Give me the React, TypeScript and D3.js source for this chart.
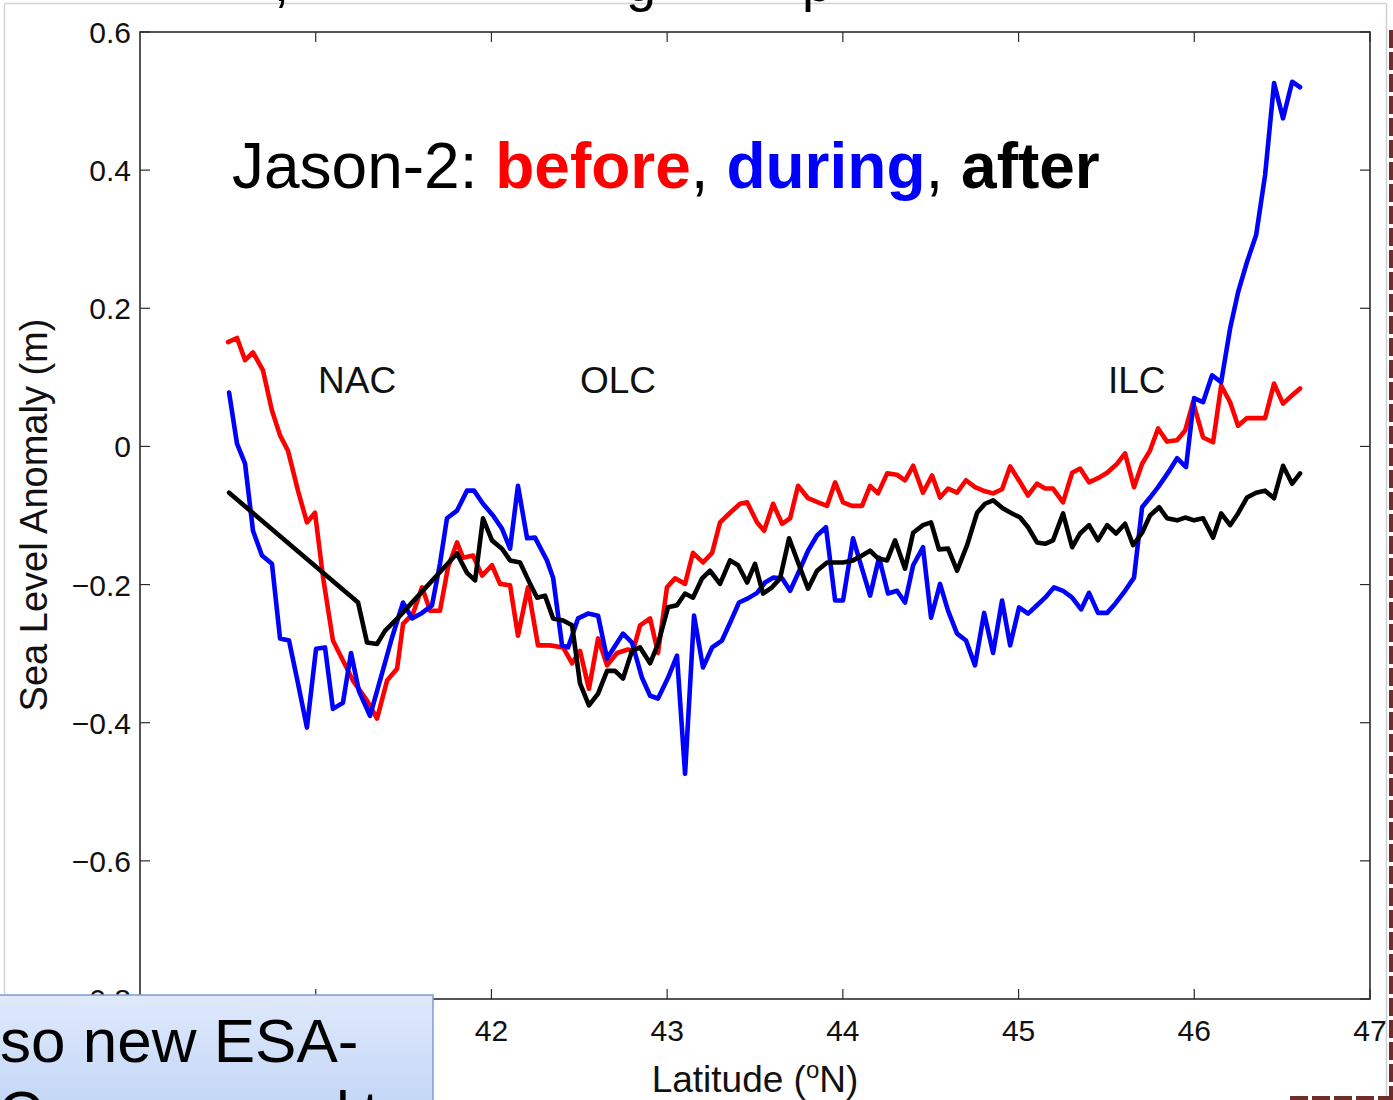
import React from "react";
import * as d3 from "d3";

// Along-track sea level anomaly (m) versus latitude (deg N)
const before: [number, number][] = [
  [40.501, 0.151], [40.552, 0.157], [40.598, 0.125], [40.643, 0.136], [40.7, 0.11],
  [40.751, 0.052], [40.797, 0.016], [40.842, -0.006], [40.899, -0.064], [40.95, -0.11],
  [40.996, -0.096], [41.042, -0.19], [41.098, -0.281], [41.155, -0.31], [41.212, -0.339],
  [41.292, -0.368], [41.349, -0.394], [41.406, -0.339], [41.463, -0.322], [41.497, -0.257],
  [41.554, -0.242], [41.605, -0.204], [41.651, -0.238], [41.707, -0.238], [41.753, -0.175],
  [41.804, -0.139], [41.838, -0.161], [41.895, -0.158], [41.947, -0.187], [42.003, -0.172],
  [42.049, -0.199], [42.106, -0.201], [42.151, -0.274], [42.208, -0.204], [42.265, -0.288],
  [42.334, -0.288], [42.408, -0.291], [42.459, -0.314], [42.504, -0.296], [42.555, -0.351],
  [42.607, -0.278], [42.658, -0.317], [42.715, -0.299], [42.777, -0.294], [42.806, -0.296],
  [42.846, -0.259], [42.903, -0.249], [42.948, -0.299], [42.999, -0.204], [43.045, -0.191],
  [43.102, -0.199], [43.147, -0.154], [43.204, -0.168], [43.256, -0.154], [43.301, -0.11],
  [43.358, -0.096], [43.415, -0.083], [43.455, -0.081], [43.512, -0.11], [43.552, -0.122],
  [43.603, -0.083], [43.654, -0.112], [43.7, -0.104], [43.745, -0.057], [43.802, -0.075],
  [43.859, -0.081], [43.91, -0.086], [43.956, -0.052], [44.001, -0.081], [44.052, -0.086],
  [44.109, -0.086], [44.155, -0.057], [44.2, -0.068], [44.252, -0.039], [44.308, -0.041],
  [44.354, -0.049], [44.4, -0.028], [44.456, -0.067], [44.508, -0.042], [44.553, -0.074],
  [44.599, -0.061], [44.65, -0.067], [44.701, -0.049], [44.752, -0.059], [44.809, -0.065],
  [44.855, -0.068], [44.906, -0.062], [44.952, -0.029], [45.009, -0.052], [45.054, -0.071],
  [45.105, -0.054], [45.151, -0.061], [45.196, -0.061], [45.253, -0.081], [45.305, -0.038],
  [45.35, -0.032], [45.401, -0.052], [45.452, -0.046], [45.504, -0.038], [45.561, -0.025],
  [45.606, -0.01], [45.657, -0.059], [45.703, -0.025], [45.748, -0.006], [45.794, 0.026],
  [45.845, 0.007], [45.902, 0.009], [45.948, 0.023], [45.993, 0.064], [46.05, 0.013],
  [46.107, 0.006], [46.153, 0.088], [46.204, 0.064], [46.249, 0.03], [46.3, 0.041],
  [46.403, 0.041], [46.454, 0.091], [46.505, 0.062], [46.557, 0.074], [46.602, 0.084],
];

const during: [number, number][] = [
  [40.507, 0.078], [40.552, 0.004], [40.598, -0.025], [40.643, -0.122], [40.694, -0.158],
  [40.751, -0.17], [40.797, -0.278], [40.848, -0.281], [40.899, -0.343], [40.95, -0.407],
  [41.002, -0.293], [41.053, -0.291], [41.098, -0.38], [41.155, -0.371], [41.201, -0.299],
  [41.246, -0.354], [41.309, -0.39], [41.377, -0.329], [41.434, -0.277], [41.497, -0.226],
  [41.548, -0.249], [41.605, -0.241], [41.662, -0.23], [41.707, -0.17], [41.747, -0.104],
  [41.804, -0.093], [41.861, -0.064], [41.901, -0.064], [41.952, -0.083], [42.009, -0.1],
  [42.06, -0.119], [42.106, -0.148], [42.151, -0.057], [42.203, -0.133], [42.248, -0.132],
  [42.316, -0.165], [42.351, -0.19], [42.402, -0.288], [42.436, -0.291], [42.493, -0.249],
  [42.55, -0.242], [42.607, -0.245], [42.658, -0.307], [42.749, -0.271], [42.8, -0.284],
  [42.857, -0.335], [42.903, -0.361], [42.948, -0.365], [43.005, -0.335], [43.056, -0.303],
  [43.102, -0.474], [43.153, -0.245], [43.204, -0.32], [43.256, -0.291], [43.312, -0.281],
  [43.364, -0.252], [43.409, -0.226], [43.46, -0.22], [43.512, -0.212], [43.557, -0.197],
  [43.603, -0.19], [43.654, -0.191], [43.7, -0.209], [43.745, -0.184], [43.802, -0.151],
  [43.853, -0.129], [43.904, -0.117], [43.956, -0.223], [44.001, -0.223], [44.058, -0.133],
  [44.109, -0.177], [44.155, -0.216], [44.206, -0.161], [44.257, -0.213], [44.308, -0.209],
  [44.354, -0.226], [44.4, -0.172], [44.456, -0.146], [44.502, -0.248], [44.553, -0.199],
  [44.599, -0.238], [44.65, -0.271], [44.701, -0.281], [44.752, -0.317], [44.804, -0.241],
  [44.855, -0.299], [44.906, -0.223], [44.952, -0.288], [45.003, -0.233], [45.054, -0.242],
  [45.105, -0.23], [45.151, -0.219], [45.202, -0.204], [45.253, -0.209], [45.305, -0.219],
  [45.356, -0.236], [45.401, -0.212], [45.452, -0.241], [45.504, -0.241], [45.549, -0.228],
  [45.606, -0.209], [45.657, -0.19], [45.703, -0.088], [45.748, -0.074], [45.794, -0.059],
  [45.851, -0.038], [45.902, -0.017], [45.953, -0.03], [45.999, 0.07], [46.05, 0.064],
  [46.101, 0.103], [46.153, 0.093], [46.204, 0.171], [46.249, 0.223], [46.3, 0.267],
  [46.352, 0.306], [46.403, 0.393], [46.454, 0.526], [46.505, 0.475], [46.557, 0.528],
  [46.602, 0.52],
];

const after: [number, number][] = [
  [40.507, -0.067], [41.241, -0.226], [41.292, -0.284], [41.349, -0.286], [41.394, -0.267],
  [41.48, -0.245], [41.804, -0.155], [41.861, -0.183], [41.907, -0.194], [41.952, -0.104],
  [42.003, -0.136], [42.06, -0.148], [42.106, -0.165], [42.163, -0.168], [42.22, -0.199],
  [42.26, -0.219], [42.305, -0.216], [42.351, -0.249], [42.408, -0.252], [42.459, -0.259],
  [42.504, -0.343], [42.555, -0.375], [42.607, -0.358], [42.658, -0.325], [42.703, -0.325],
  [42.749, -0.336], [42.8, -0.296], [42.846, -0.291], [42.903, -0.314], [42.948, -0.286],
  [43.005, -0.233], [43.056, -0.23], [43.102, -0.213], [43.147, -0.219], [43.199, -0.191],
  [43.244, -0.18], [43.301, -0.199], [43.358, -0.165], [43.404, -0.172], [43.455, -0.197],
  [43.5, -0.17], [43.546, -0.213], [43.597, -0.204], [43.643, -0.191], [43.694, -0.133],
  [43.745, -0.168], [43.802, -0.206], [43.853, -0.18], [43.91, -0.168], [43.956, -0.168],
  [44.001, -0.168], [44.058, -0.165], [44.109, -0.158], [44.155, -0.151], [44.2, -0.162],
  [44.252, -0.165], [44.297, -0.136], [44.354, -0.177], [44.4, -0.125], [44.456, -0.114],
  [44.502, -0.11], [44.547, -0.149], [44.599, -0.148], [44.65, -0.18], [44.707, -0.143],
  [44.764, -0.096], [44.809, -0.083], [44.855, -0.078], [44.912, -0.09], [44.963, -0.097],
  [45.009, -0.103], [45.054, -0.117], [45.105, -0.139], [45.151, -0.141], [45.196, -0.136],
  [45.253, -0.097], [45.305, -0.146], [45.35, -0.126], [45.401, -0.114], [45.452, -0.136],
  [45.504, -0.114], [45.555, -0.126], [45.606, -0.112], [45.652, -0.143], [45.703, -0.125],
  [45.748, -0.1], [45.8, -0.088], [45.845, -0.104], [45.902, -0.107], [45.948, -0.103],
  [45.999, -0.107], [46.05, -0.104], [46.107, -0.132], [46.153, -0.097], [46.204, -0.114],
  [46.249, -0.097], [46.3, -0.074], [46.352, -0.067], [46.403, -0.064], [46.454, -0.075],
  [46.505, -0.028], [46.557, -0.054], [46.602, -0.039],
];

const xTicks = [41, 42, 43, 44, 45, 46, 47];
const yTicks = [0.6, 0.4, 0.2, 0, -0.2, -0.4, -0.6, -0.8];
const regionNames = ["NAC", "OLC", "ILC"];
const regionLats = [41.013, 42.504, 45.509];
const regionLevel = 0.078;

const W = 1393;
const H = 1100;
const FONT = "'Liberation Sans', Arial, Helvetica, sans-serif";

function fmt(v: number) {
  if (v === 0) return "0";
  const s = Math.abs(v).toFixed(1);
  return v < 0 ? "\u2212" + s : s;
}

export default function App() {
  const left = 140, right = 1370, top = 32, bottom = 999;
  const x = d3.scaleLinear().domain([40, 47]).range([left, right]);
  const y = d3.scaleLinear().domain([-0.8, 0.6]).range([bottom, top]);
  const line = d3
    .line<[number, number]>()
    .x((d) => x(d[0]))
    .y((d) => y(d[1]));

  const tickLen = 10;
  const axisColor = "#2b2b2b";

  return (
    <svg
      width={W}
      height={H}
      viewBox={`0 0 ${W} ${H}`}
      style={{ position: "absolute", left: 0, top: 0, background: "#fff" }}
      fontFamily={FONT}
    >
      <defs>
        <linearGradient id="boxGrad" x1="0" y1="0" x2="0" y2="1">
          <stop offset="0" stopColor="#dfe9fb" />
          <stop offset="1" stopColor="#bcd2f5" />
        </linearGradient>
        <clipPath id="pageClip">
          <rect x={0} y={0} width={W} height={H} />
        </clipPath>
      </defs>

      {/* slide frame lines */}
      <line x1={4.5} y1={3.5} x2={1386} y2={3.5} stroke="#d4d4d4" strokeWidth={1.5} />
      <line x1={4.5} y1={3.5} x2={4.5} y2={H} stroke="#d4d4d4" strokeWidth={1.5} />
      <line x1={1386.5} y1={3.5} x2={1386.5} y2={H} stroke="#cfcfcf" strokeWidth={1.5} />

      {/* bottoms of the slide heading glyphs above the plot */}
      <g fontSize={54} fill="#000">
        <text x={274} y={1}>,</text>
        <text x={626} y={1}>g</text>
        <text x={802} y={1}>p</text>
      </g>

      {/* plot box */}
      <rect
        x={left}
        y={top}
        width={right - left}
        height={bottom - top}
        fill="none"
        stroke={axisColor}
        strokeWidth={1.6}
      />
      {xTicks.map((t) => (
        <g key={"xt" + t}>
          <line x1={x(t)} x2={x(t)} y1={bottom} y2={bottom - tickLen} stroke={axisColor} strokeWidth={1.2} />
          <line x1={x(t)} x2={x(t)} y1={top} y2={top + tickLen} stroke={axisColor} strokeWidth={1.2} />
          <text x={x(t)} y={1041} fontSize={30} textAnchor="middle" fill="#111">
            {t}
          </text>
        </g>
      ))}
      {yTicks.map((t) => (
        <g key={"yt" + t}>
          <line x1={left} x2={left + tickLen} y1={y(t)} y2={y(t)} stroke={axisColor} strokeWidth={1.2} />
          <line x1={right} x2={right - tickLen} y1={y(t)} y2={y(t)} stroke={axisColor} strokeWidth={1.2} />
          <text x={131} y={y(t) + 11} fontSize={30} textAnchor="end" fill="#111">
            {fmt(t)}
          </text>
        </g>
      ))}

      {/* axis titles */}
      <text
        transform={`translate(47, 515) rotate(-90)`}
        fontSize={38}
        textAnchor="middle"
        fill="#111"
      >
        Sea Level Anomaly (m)
      </text>
      <text x={755} y={1092} fontSize={37} textAnchor="middle" fill="#111">
        Latitude (<tspan fontSize={24} dy={-14}>o</tspan>
        <tspan dy={14}>N)</tspan>
      </text>

      {/* series */}
      <g fill="none" strokeWidth={4.6} strokeLinejoin="round" strokeLinecap="round">
        <path d={line(before) ?? ""} stroke="#ff0000" />
        <path d={line(during) ?? ""} stroke="#0000ff" />
        <path d={line(after) ?? ""} stroke="#000000" />
      </g>

      {/* current names */}
      {regionNames.map((n, i) => (
        <text key={n} x={x(regionLats[i])} y={y(regionLevel)} fontSize={37} fill="#111">
          {n}
        </text>
      ))}

      {/* title */}
      <text x={232} y={188} fontSize={64} fill="#000">
        <tspan>Jason-2: </tspan>
        <tspan fill="#ff0000" fontWeight="bold">before</tspan>
        <tspan>, </tspan>
        <tspan fill="#0000ff" fontWeight="bold">during</tspan>
        <tspan>, </tspan>
        <tspan fontWeight="bold">after</tspan>
      </text>

      {/* right-hand dashed slide border */}
      <line x1={1391} y1={30} x2={1391} y2={1098} stroke="#6e2d2b" strokeWidth={4} strokeDasharray="18 4" />
      <line x1={1290} y1={1098} x2={1393} y2={1098} stroke="#6e2d2b" strokeWidth={4} strokeDasharray="18 4" />

      {/* overlapping text box */}
      <g clipPath="url(#pageClip)">
        <rect x={-10} y={995} width={443} height={140} fill="url(#boxGrad)" stroke="#7f9ccf" strokeWidth={1.5} />
        <text x={0} y={1062} fontSize={62} fill="#000">
          so new ESA-
        </text>
        <text y={1134} fontSize={62} fill="#000">
          <tspan x={-2}>C</tspan>
          <tspan x={336}>l</tspan>
          <tspan x={362}>t</tspan>
        </text>
      </g>
    </svg>
  );
}
